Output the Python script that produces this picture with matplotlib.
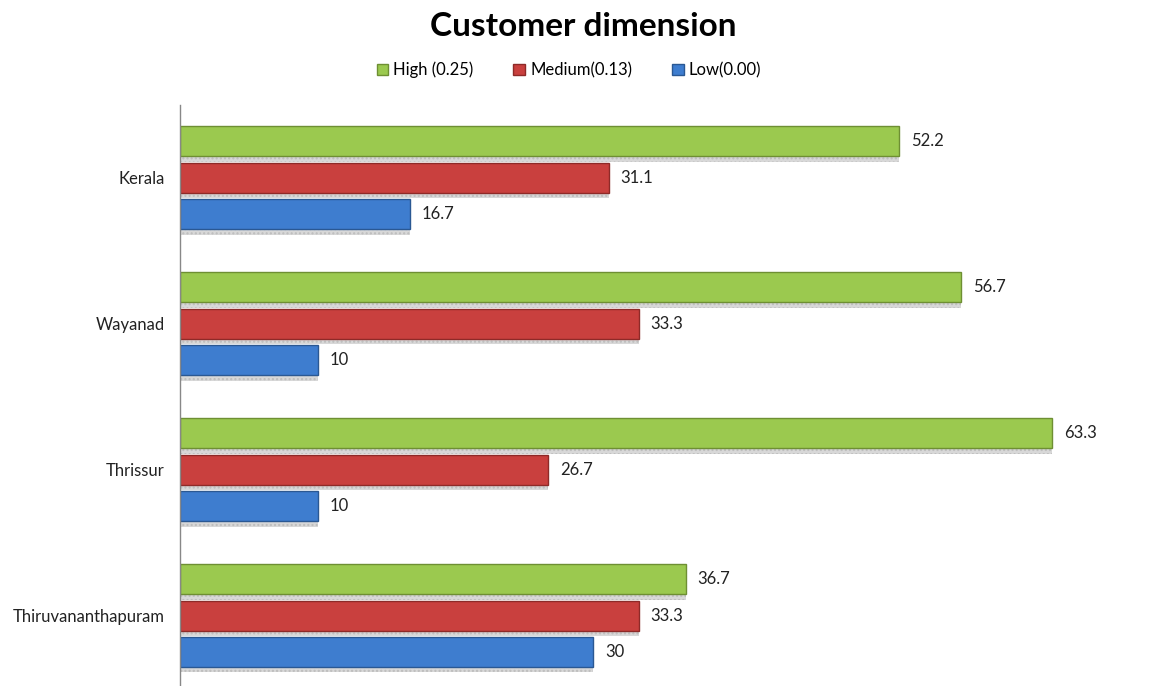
import matplotlib.pyplot as plt
import numpy as np

plt.rcParams['font.family'] = ['Lato', 'DejaVu Sans']

# datos del grafico
districts = ['Thiruvananthapuram', 'Thrissur', 'Wayanad', 'Kerala']
high = [36.7, 63.3, 56.7, 52.2]
medium = [33.3, 26.7, 33.3, 31.1]
low = [30, 10, 10, 16.7]
series_names = ['High (0.25)', 'Medium(0.13)', 'Low(0.00)']

colors = ['#9BC94F', '#C9403E', '#3E7DCF']
edges = ['#6E8F33', '#8E2A28', '#2A5893']

fig = plt.figure(figsize=(11.54, 6.86), dpi=100)
ax = fig.add_axes([0.156, 0.0, 0.836, 0.847])

y = np.arange(len(districts))
h = 0.205
offsets = [0.25, 0.0, -0.25]
handles = []
for vals, off, c, e, name in zip([high, medium, low], offsets, colors, edges, series_names):
    # sombra punteada debajo de la barra
    ax.barh(y + off - 0.035, vals, height=h, color='#D8D8D8', hatch='....',
            edgecolor='#BDBDBD', linewidth=0, zorder=1)
    b = ax.barh(y + off, vals, height=h, color=c, edgecolor=e, linewidth=1.0,
                zorder=2, label=name)
    handles.append(b)
    for yi, v in zip(y, vals):
        ax.text(v + 0.85, yi + off, f'{v:g}', va='center', ha='left',
                fontsize=12, color='#222222')

ax.set_xlim(0, 70)
ax.set_ylim(-0.48, 3.5)
ax.set_yticks(y)
ax.set_yticklabels(districts, fontsize=12, color='#222222')
ax.tick_params(axis='y', length=0, pad=11)
ax.set_xticks([])
for s in ['top', 'right', 'bottom']:
    ax.spines[s].set_visible(False)
ax.spines['left'].set_color('#888888')
ax.spines['left'].set_linewidth(1)

fig.text(0.505, 0.962, 'Customer dimension', ha='center', va='center',
         fontsize=24, fontweight='bold')
fig.legend(handles=handles, loc='center', bbox_to_anchor=(0.493, 0.898), ncol=3,
           frameon=False, fontsize=12, handlelength=0.7, handleheight=0.7,
           handletextpad=0.3, columnspacing=2.4)

fig.savefig('out.png', dpi=100)
